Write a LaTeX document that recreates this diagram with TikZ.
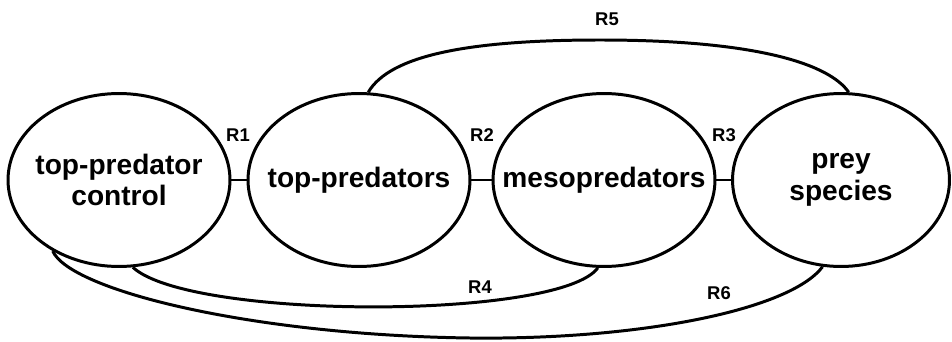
\documentclass[tikz,border=0pt]{standalone}
\usepackage{fontspec}
\setmainfont{Liberation Sans}
\usetikzlibrary{shapes.geometric}
\begin{document}
\begin{tikzpicture}[x=0.02cm,y=-0.02cm,line width=1.7pt,
    grp/.style={draw,ellipse,inner sep=0pt,minimum width=4.44cm,minimum height=3.46cm},
    grptext/.style={align=center,font=\fontsize{16}{18}\selectfont\bfseries},
    rlab/.style={font=\fontsize{10.5}{12}\selectfont\bfseries}]
    \useasboundingbox (0,0) rectangle (952,341);
    \node[grp,label={[grptext]center:top-predator\\control}] (tpc) at (119,180) {};
    \node[grp,label={[grptext]center:top-predators}] (tp) at (359,180) {};
    \node[grp,label={[grptext]center:mesopredators}] (meso) at (604,180) {};
    \node[grp,minimum width=4.34cm,label={[grptext]center:prey\\species}] (prey) at (841,180) {};
    \draw (tpc) -- (tp);
    \draw (tp) -- (meso);
    \draw (meso) -- (prey);
    \draw (tp.84) .. controls (390,55) and (470,40) .. (600,40) .. controls (760,40) and (830,65) .. (prey.85);
    \draw (tpc.-81) .. controls (190,320) and (560,320) .. (meso.-94);
    \draw (tpc.-133) .. controls (70,290) and (250,335) .. (470,338) .. controls (640,340) and (790,310) .. (prey.-102);
    \node[rlab] (r1) at (238,135) {R1};
    \node[rlab] (r2) at (482,135) {R2};
    \node[rlab] (r3) at (724,135) {R3};
    \node[rlab] (r4) at (480,287) {R4};
    \node[rlab] (r5) at (607,19) {R5};
    \node[rlab] (r6) at (719,293) {R6};
\end{tikzpicture}
\end{document}
